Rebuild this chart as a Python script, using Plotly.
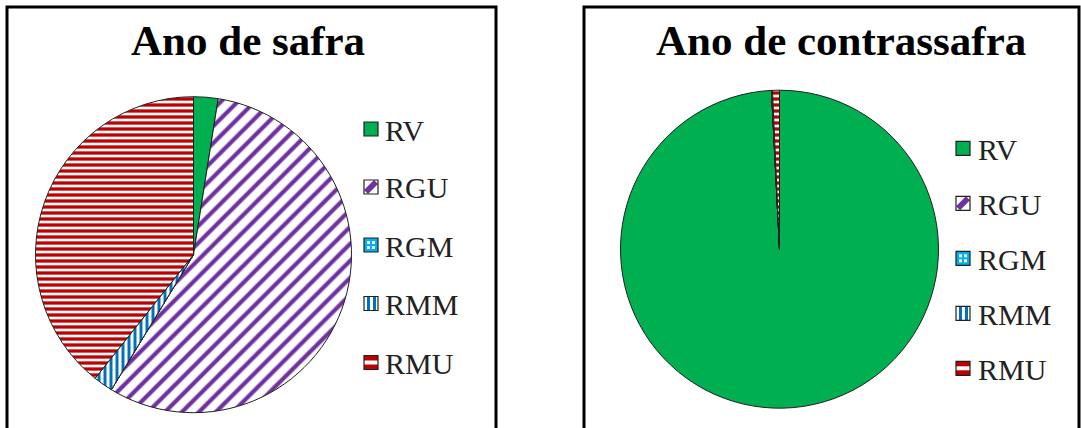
import plotly.graph_objects as go

W, H = 1081, 428

labels = ["RV", "RGU", "RGM", "RMM", "RMU"]
safra_values = [2.5, 56.2, 0.0, 2.0, 39.3]
contrassafra_values = [99.2, 0.0, 0.0, 0.1, 0.7]
titles = ["Ano de safra", "Ano de contrassafra"]

fg_colors = ["#00B050", "#7030A0", "#FFFFFF", "#0070C0", "#C00000"]
bg_colors = ["#00B050", "#FFFFFF", "#00B0F0", "#FFFFFF", "#FFFFFF"]
shapes_pat = ["", "/", ".", "|", "-"]
pat_sizes = [8, 12, 6, 6, 6]
pat_solid = [0.3, 0.35, 0.5, 0.5, 0.55]

SERIF = "Liberation Serif, Times New Roman, serif"


def px(x):
    return x / W


def py(y):
    return 1 - y / H


def pie_domain(cx, cy, r):
    return dict(x=[px(cx - r), px(cx + r)], y=[py(cy + r), py(cy - r)])


fig = go.Figure()

for vals, (cx, cy, r) in [(safra_values, (193.5, 254.7, 158)),
                          (contrassafra_values, (779.5, 249.2, 159))]:
    fig.add_trace(go.Pie(
        labels=labels, values=vals, sort=False, direction="clockwise",
        rotation=0, textinfo="none", hoverinfo="label+value",
        showlegend=False, domain=pie_domain(cx, cy, r),
        marker=dict(
            colors=bg_colors,
            line=dict(color="#202020", width=1),
            pattern=dict(shape=shapes_pat, fgcolor=fg_colors, bgcolor=bg_colors,
                         size=pat_sizes, solidity=pat_solid, fillmode="replace"),
        ),
    ))

shapes = []
annotations = []

# panel borders
for x0, x1 in [(7, 496), (584, 1079)]:
    shapes.append(dict(type="rect", xref="paper", yref="paper",
                       x0=px(x0), x1=px(x1), y0=py(450), y1=py(7),
                       line=dict(color="black", width=3), fillcolor="rgba(0,0,0,0)"))

# titles
for t, cx in zip(titles, [247.5, 840.8]):
    annotations.append(dict(text="<b>%s</b>" % t, x=px(cx), y=py(40), xref="paper", yref="paper",
                            xanchor="center", yanchor="middle", showarrow=False,
                            font=dict(family=SERIF, size=43, color="black")))


def rect(x0, y0, x1, y1, fill, lw=0, lc="black"):
    return dict(type="rect", xref="paper", yref="paper", x0=px(x0), x1=px(x1),
                y0=py(y1), y1=py(y0), fillcolor=fill, line=dict(color=lc, width=lw), layer="above")


def swatch(kind, x0, yc, s=14):
    y0, y1, x1 = yc - s / 2, yc + s / 2, x0 + s
    out = []
    if kind == 0:
        out.append(rect(x0, y0, x1, y1, "#00B050"))
    elif kind == 1:
        out.append(rect(x0, y0, x1, y1, "white"))
        path = "M %f %f L %f %f L %f %f L %f %f Z" % (
            px(x0), py(y1 - 4), px(x1 - 4), py(y0), px(x1), py(y0 + 4), px(x0 + 4), py(y1))
        out.append(dict(type="path", xref="paper", yref="paper", path=path,
                        fillcolor="#7030A0", line=dict(width=0), layer="above"))
    elif kind == 2:
        out.append(rect(x0, y0, x1, y1, "#00B0F0"))
        for i in range(2):
            for j in range(2):
                out.append(rect(x0 + 3 + i * 5, y0 + 3 + j * 5, x0 + 6 + i * 5, y0 + 6 + j * 5, "white"))
    elif kind == 3:
        out.append(rect(x0, y0, x1, y1, "white"))
        out.append(rect(x0 + 3, y0, x0 + 6, y1, "#0070C0"))
        out.append(rect(x0 + 9, y0, x0 + 12, y1, "#0070C0"))
    elif kind == 4:
        out.append(rect(x0, y0, x1, y1, "#C00000"))
        out.append(rect(x0, yc - 2, x1, yc + 2, "white"))
    out.append(rect(x0, y0, x1, y1, "rgba(0,0,0,0)", lw=1.2, lc="#202020"))
    return out


legend_specs = [
    (364, 383, [129, 187, 245, 303.5, 362.5]),
    (956, 976, [148.3, 203.3, 258.3, 313.3, 368.3]),
]
for sx, tx, ys in legend_specs:
    for k, (lab, yc) in enumerate(zip(labels, ys)):
        shapes.extend(swatch(k, sx, yc))
        annotations.append(dict(text=lab, x=px(tx), y=py(yc + 1), xref="paper", yref="paper",
                                xanchor="left", yanchor="middle", showarrow=False,
                                font=dict(family=SERIF, size=30, color="#222222")))

fig.update_layout(
    width=W, height=H, margin=dict(l=0, r=0, t=0, b=0),
    paper_bgcolor="white", plot_bgcolor="white",
    shapes=shapes, annotations=annotations, showlegend=False,
)

fig.write_html("out.html", config={"displayModeBar": False},
               post_script="document.body.style.margin='0';document.body.style.overflow='hidden';")
